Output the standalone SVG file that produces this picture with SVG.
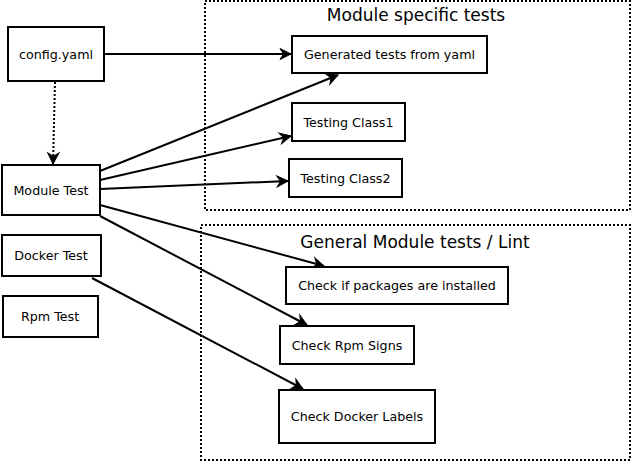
<svg xmlns="http://www.w3.org/2000/svg" width="635" height="464" viewBox="0 0 635 464">
<defs>
<marker id="ah" viewBox="-13 -7 14 14" refX="0" refY="0" markerWidth="14" markerHeight="14" markerUnits="userSpaceOnUse" orient="auto">
<path d="M0,0 L-11,-5.5 L-7.5,0 L-11,5.5 Z" fill="#000" stroke="#000" stroke-width="1" stroke-linejoin="miter"/>
</marker>
<style>
.box{fill:#fff;stroke:#000;stroke-width:2}
.grp{fill:none;stroke:#000;stroke-width:2;stroke-dasharray:2 2}
.lbl{font-family:"DejaVu Sans",sans-serif;font-size:12.7px;fill:#000;text-anchor:middle;dominant-baseline:central}
.ttl{font-family:"DejaVu Sans",sans-serif;font-size:17px;fill:#000;text-anchor:middle}
.c{fill:none;stroke:#000;stroke-width:2;marker-end:url(#ah)}
.d{stroke-dasharray:2 2}
</style>
</defs>
<g id="group-module-specific">
<rect class="grp" x="205" y="1" width="425" height="209"/>
<text class="ttl" x="416" y="21">Module specific tests</text>
</g>
<g id="group-general">
<rect class="grp" x="201" y="225" width="429" height="235"/>
<text class="ttl" x="415" y="248">General Module tests / Lint</text>
</g>
<g id="connectors">
<line class="c" x1="104" y1="54" x2="291" y2="54"/>
<line class="c d" x1="55" y1="82" x2="53" y2="164"/>
<line class="c" x1="100" y1="171" x2="338" y2="75"/>
<line class="c" x1="100" y1="180" x2="291" y2="136"/>
<line class="c" x1="100" y1="189" x2="288" y2="181"/>
<line class="c" x1="100" y1="205" x2="324" y2="266"/>
<line class="c" x1="100" y1="216" x2="307" y2="325"/>
<line class="c" x1="92" y1="278" x2="303" y2="389"/>
</g>
<g id="config-yaml">
<rect class="box" x="8" y="27" width="96" height="54"/>
<text class="lbl" x="56" y="54">config.yaml</text>
</g>
<g id="module-test">
<rect class="box" x="2" y="165" width="98" height="50"/>
<text class="lbl" x="51" y="190">Module Test</text>
</g>
<g id="docker-test">
<rect class="box" x="2" y="235" width="99" height="41"/>
<text class="lbl" x="51" y="255.5">Docker Test</text>
</g>
<g id="rpm-test">
<rect class="box" x="3" y="296" width="95" height="41"/>
<text class="lbl" x="50" y="316.5">Rpm Test</text>
</g>
<g id="generated-tests">
<rect class="box" x="292" y="36" width="195" height="37"/>
<text class="lbl" x="389.5" y="54.5">Generated tests from yaml</text>
</g>
<g id="testing-class1">
<rect class="box" x="292" y="103" width="113" height="38"/>
<text class="lbl" x="348.5" y="122">Testing Class1</text>
</g>
<g id="testing-class2">
<rect class="box" x="289" y="159" width="113" height="38"/>
<text class="lbl" x="345.5" y="178">Testing Class2</text>
</g>
<g id="check-packages">
<rect class="box" x="286" y="267" width="222" height="37"/>
<text class="lbl" x="397" y="285.5">Check if packages are installed</text>
</g>
<g id="check-rpm-signs">
<rect class="box" x="280" y="326" width="134" height="38"/>
<text class="lbl" x="347" y="345">Check Rpm Signs</text>
</g>
<g id="check-docker-labels">
<rect class="box" x="279" y="390" width="156" height="53"/>
<text class="lbl" x="357" y="416.5">Check Docker Labels</text>
</g>
</svg>
